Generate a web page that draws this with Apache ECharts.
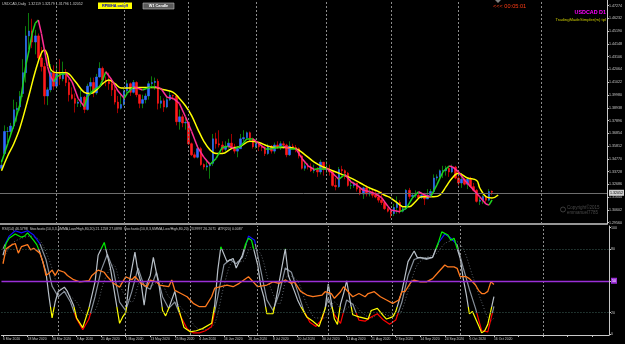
<!DOCTYPE html>
<html>
<head>
<meta charset="utf-8">
<script src="https://cdn.jsdelivr.net/npm/echarts@6.0.0/dist/echarts.min.js"></script>
<style>
  html, body { margin: 0; padding: 0; background: #000; }
  #chart { width: 625px; height: 344px; }
</style>
</head>
<body>
<div id="chart"></div>
<script>
// daily bars, 6 Mar 2020 .. 16 Oct 2020 : [open, high, low, close]
const bars = [
  [1.3400,1.3470,1.3385,1.3425],[1.3520,1.3750,1.3510,1.3700],[1.3700,1.3737,1.3612,1.3700],[1.3700,1.3770,1.3655,1.3745],
  [1.3745,1.3960,1.3720,1.3877],[1.3877,1.3940,1.3780,1.3890],[1.3900,1.4030,1.3870,1.3985],[1.4010,1.4290,1.3980,1.4180],
  [1.4180,1.4560,1.4100,1.4480],[1.4480,1.4667,1.4370,1.4520],[1.4520,1.4620,1.4380,1.4430],[1.4430,1.4530,1.4330,1.4480],
  [1.4480,1.4500,1.4270,1.4300],[1.4300,1.4390,1.4190,1.4230],[1.4230,1.4260,1.3920,1.3990],[1.3990,1.4060,1.3915,1.4040],
  [1.4040,1.4250,1.4020,1.4180],[1.4180,1.4240,1.4040,1.4070],[1.4070,1.4250,1.4050,1.4170],[1.4170,1.4290,1.4080,1.4130],
  [1.4130,1.4270,1.4110,1.4185],[1.4185,1.4210,1.4070,1.4100],[1.4100,1.4130,1.3945,1.4000],[1.4000,1.4060,1.3960,1.3970],
  [1.3970,1.4010,1.3855,1.3930],[1.3930,1.3960,1.3900,1.3940],[1.3940,1.4040,1.3900,1.3980],[1.3980,1.3990,1.3850,1.3880],
  [1.3880,1.4090,1.3870,1.4070],[1.4070,1.4140,1.4020,1.4100],[1.4100,1.4140,1.3980,1.4015],[1.4015,1.4170,1.4000,1.4145],
  [1.4145,1.4265,1.4140,1.4215],[1.4215,1.4230,1.4090,1.4120],[1.4120,1.4150,1.4070,1.4110],[1.4110,1.4180,1.4040,1.4090],
  [1.4090,1.4120,1.3990,1.4040],[1.4040,1.4070,1.3920,1.3940],[1.3940,1.3990,1.3850,1.3890],[1.3890,1.4000,1.3880,1.3920],
  [1.3920,1.4050,1.3910,1.4030],[1.4030,1.4120,1.4000,1.4090],[1.4090,1.4100,1.3990,1.4020],[1.4020,1.4120,1.4010,1.4100],
  [1.4100,1.4110,1.3980,1.4000],[1.4000,1.4000,1.3890,1.3930],[1.3930,1.4000,1.3890,1.3960],[1.3960,1.4010,1.3930,1.3990],
  [1.3990,1.4110,1.3960,1.4090],[1.4090,1.4150,1.4070,1.4100],[1.4100,1.4140,1.4040,1.4110],[1.4110,1.4130,1.3880,1.3930],
  [1.3930,1.3990,1.3890,1.3950],[1.3950,1.3970,1.3860,1.3900],[1.3900,1.3990,1.3890,1.3960],[1.3960,1.4030,1.3950,1.3995],
  [1.3995,1.4000,1.3960,1.3990],[1.3990,1.4000,1.3750,1.3780],[1.3780,1.3880,1.3715,1.3820],[1.3820,1.3840,1.3735,1.3770],
  [1.3770,1.3810,1.3715,1.3775],[1.3775,1.3780,1.3590,1.3600],[1.3600,1.3610,1.3500,1.3510],[1.3510,1.3530,1.3480,1.3490],
  [1.3490,1.3590,1.3480,1.3560],[1.3560,1.3575,1.3420,1.3430],[1.3430,1.3440,1.3390,1.3410],[1.3410,1.3470,1.3380,1.3420],
  [1.3420,1.3450,1.3315,1.3440],[1.3440,1.3680,1.3420,1.3640],[1.3640,1.3690,1.3560,1.3600],[1.3600,1.3710,1.3570,1.3590],
  [1.3590,1.3620,1.3530,1.3555],[1.3555,1.3620,1.3540,1.3580],[1.3580,1.3640,1.3560,1.3605],[1.3605,1.3680,1.3570,1.3575],
  [1.3575,1.3600,1.3520,1.3540],[1.3540,1.3580,1.3490,1.3560],[1.3560,1.3680,1.3560,1.3640],[1.3640,1.3710,1.3620,1.3650],
  [1.3650,1.3700,1.3630,1.3690],[1.3690,1.3700,1.3620,1.3640],[1.3640,1.3650,1.3560,1.3575],[1.3575,1.3640,1.3560,1.3600],
  [1.3600,1.3615,1.3540,1.3575],[1.3575,1.3590,1.3540,1.3570],[1.3570,1.3580,1.3500,1.3520],[1.3520,1.3600,1.3510,1.3580],
  [1.3580,1.3590,1.3520,1.3540],[1.3540,1.3610,1.3520,1.3590],[1.3590,1.3620,1.3560,1.3570],[1.3570,1.3620,1.3550,1.3600],
  [1.3600,1.3620,1.3560,1.3590],[1.3590,1.3600,1.3490,1.3510],[1.3510,1.3620,1.3500,1.3580],[1.3580,1.3600,1.3560,1.3570],
  [1.3570,1.3590,1.3530,1.3560],[1.3560,1.3570,1.3480,1.3500],[1.3500,1.3510,1.3390,1.3400],[1.3400,1.3450,1.3380,1.3420],
  [1.3420,1.3440,1.3390,1.3410],[1.3410,1.3440,1.3370,1.3380],[1.3380,1.3430,1.3360,1.3390],[1.3390,1.3410,1.3330,1.3370],
  [1.3370,1.3470,1.3350,1.3450],[1.3450,1.3450,1.3340,1.3390],[1.3390,1.3460,1.3360,1.3390],[1.3390,1.3430,1.3340,1.3370],
  [1.3370,1.3380,1.3250,1.3260],[1.3260,1.3320,1.3220,1.3250],[1.3250,1.3410,1.3240,1.3390],[1.3390,1.3420,1.3330,1.3380],
  [1.3380,1.3390,1.3310,1.3360],[1.3360,1.3370,1.3250,1.3260],[1.3260,1.3310,1.3230,1.3260],[1.3260,1.3290,1.3240,1.3280],
  [1.3280,1.3280,1.3210,1.3230],[1.3230,1.3250,1.3180,1.3190],[1.3190,1.3250,1.3150,1.3240],[1.3240,1.3260,1.3170,1.3190],
  [1.3190,1.3250,1.3170,1.3200],[1.3200,1.3230,1.3160,1.3180],[1.3180,1.3220,1.3155,1.3165],[1.3165,1.3210,1.3120,1.3140],
  [1.3140,1.3210,1.3100,1.3120],[1.3120,1.3130,1.3060,1.3070],[1.3070,1.3080,1.3040,1.3050],[1.3050,1.3070,1.2994,1.3030],
  [1.3030,1.3110,1.3010,1.3080],[1.3080,1.3170,1.3030,1.3120],[1.3120,1.3140,1.3030,1.3050],[1.3050,1.3090,1.3040,1.3070],
  [1.3070,1.3230,1.3060,1.3220],[1.3220,1.3240,1.3150,1.3170],[1.3170,1.3200,1.3150,1.3180],[1.3180,1.3220,1.3160,1.3180],
  [1.3180,1.3200,1.3150,1.3160],[1.3160,1.3200,1.3150,1.3180],[1.3180,1.3200,1.3100,1.3150],[1.3150,1.3230,1.3150,1.3180],
  [1.3180,1.3230,1.3170,1.3210],[1.3210,1.3350,1.3200,1.3320],[1.3320,1.3350,1.3300,1.3330],[1.3330,1.3390,1.3310,1.3380],
  [1.3380,1.3420,1.3320,1.3380],[1.3380,1.3420,1.3340,1.3400],[1.3400,1.3420,1.3330,1.3370],[1.3370,1.3430,1.3360,1.3410],
  [1.3410,1.3420,1.3310,1.3320],[1.3320,1.3340,1.3260,1.3280],[1.3280,1.3360,1.3240,1.3310],[1.3310,1.3320,1.3260,1.3270],
  [1.3270,1.3320,1.3230,1.3310],[1.3310,1.3330,1.3240,1.3250],[1.3250,1.3280,1.3210,1.3220],[1.3220,1.3230,1.3120,1.3130],
  [1.3130,1.3160,1.3100,1.3140],[1.3140,1.3180,1.3110,1.3170],[1.3170,1.3180,1.3120,1.3140],[1.3140,1.3230,1.3130,1.3210],
  [1.3212,1.3218,1.3180,1.3205]
];

// date labels, one every 8 bars
const tickLabels = ['6 Mar 2020','18 Mar 2020','30 Mar 2020','9 Apr 2020','21 Apr 2020','1 May 2020','13 May 2020',
  '25 May 2020','4 Jun 2020','16 Jun 2020','26 Jun 2020','8 Jul 2020','20 Jul 2020','30 Jul 2020','11 Aug 2020',
  '21 Aug 2020','2 Sep 2020','14 Sep 2020','24 Sep 2020','6 Oct 2020','16 Oct 2020'];

const priceTicks = [1.29560,1.30602,1.31644,1.32686,1.33728,1.34770,1.35812,1.36854,1.37896,1.38938,
  1.39980,1.41022,1.42064,1.43106,1.44148,1.45190,1.46232,1.47274];
const levelTicks = [0, 20, 50, 80, 100];
const monthLines = [18, 40, 61, 83, 106, 127, 149, 176];
const lastPrice = 1.32052;

// yellow slow average [bar, price]
const slowMa = [[0,1.338],[2,1.350],[4,1.360],[6,1.373],[9,1.400],[11,1.419],[13,1.434],[14,1.4365],[15,1.432],
  [16,1.421],[18,1.418],[21,1.418],[24,1.411],[27,1.402],[29,1.401],[31,1.404],[33,1.409],[35,1.412],[37,1.409],
  [39,1.4055],[42,1.4055],[45,1.406],[48,1.406],[50,1.406],[53,1.404],[56,1.402],[58,1.397],[60,1.391],[62,1.383],
  [64,1.372],[66,1.362],[68,1.355],[70,1.352],[72,1.352],[75,1.356],[78,1.358],[81,1.362],[84,1.361],[87,1.358],
  [90,1.357],[93,1.357],[96,1.356],[99,1.351],[102,1.345],[105,1.341],[108,1.338],[111,1.335],[114,1.332],
  [117,1.328],[120,1.324],[123,1.3209],[125,1.318],[127,1.3157],[130,1.3100],[131,1.3086],[133,1.3086],
  [135,1.3127],[137,1.3168],[141,1.3168],[143,1.3182],[145,1.3250],[147,1.3321],[149,1.3359],[152,1.3321],
  [155,1.3300],[156,1.3239],[158,1.3168],[160,1.3157],[162,1.3182]];

// green / pink fast average [bar, price]
const fastMa = [[0,1.345],[2,1.360],[4,1.375],[6,1.392],[8,1.425],[9,1.4365],[10,1.450],[11,1.4583],[12,1.461],
  [13,1.4501],[14,1.4365],[15,1.4229],[16,1.4147],[17,1.4106],[18,1.4147],[20,1.4175],[21,1.4175],[23,1.4106],
  [25,1.397],[27,1.3902],[28,1.3984],[30,1.4039],[32,1.4066],[33,1.412],[34,1.4188],[36,1.412],[38,1.403],
  [40,1.3971],[41,1.4012],[43,1.4066],[46,1.4039],[49,1.4066],[50,1.4066],[52,1.405],[54,1.398],[56,1.397],
  [58,1.393],[60,1.382],[62,1.370],[64,1.357],[66,1.349],[68,1.343],[70,1.348],[72,1.357],[74,1.358],[76,1.356],
  [78,1.358],[80,1.364],[82,1.364],[84,1.360],[86,1.356],[88,1.356],[90,1.357],[92,1.358],[94,1.356],[96,1.356],
  [98,1.348],[100,1.342],[102,1.339],[104,1.340],[106,1.340],[108,1.336],[110,1.331],[112,1.335],[114,1.329],
  [116,1.326],[118,1.322],[120,1.321],[122,1.319],[124,1.316],[126,1.3090],[127,1.3060],[130,1.3046],
  [132,1.3073],[134,1.3157],[136,1.3209],[138,1.3182],[140,1.3168],[142,1.3264],[144,1.3372],[146,1.3419],
  [147,1.3413],[149,1.3372],[151,1.3304],[153,1.3250],[156,1.3168],[158,1.3108],[159,1.3100],[160,1.3141]];

// lower window [bar, value]
const rsi = [[0,66],[1,80],[3,84],[4,85],[5,76],[6,82],[8,84],[9,79],[10,80.5],[12,76],[13,68],[14,55],[15,57],
  [16,60],[17,55],[18,60],[20,58],[21,55],[23,51],[25,49],[28,50],[29,55],[31,60],[33,58],[34,54],[36,47.6],[38,44],
  [40,53.8],[42,51],[43,54],[45,47.6],[47,44.4],[48,50.7],[50,49],[51,46],[54,44.4],[55,50.7],[56,41],[58,38],
  [60,35],[62,28.8],[64,25.6],[66,25.6],[68,35],[69,43],[71,44.4],[73,46],[75,44.4],[77,47.6],[80,53.8],[82,47.6],
  [83,44.4],[86,46],[88,49],[90,47.6],[92,50.7],[94,47.6],[95,49],[97,40],[99,36.6],[101,35],[104,36.6],[105,39.7],
  [107,38],[108,33.5],[110,39.7],[111,44.4],[113,38],[114,35],[116,38],[118,35],[119,38],[121,39.7],[123,35],
  [125,31.9],[127,28.8],[129,31.9],[130,39.7],[131,39.7],[133,49],[134,50.7],[136,49],[138,49],[140,52],[142,58.5],
  [144,64.8],[145,63],[147,63],[148,61.7],[149,53.8],[151,53.8],[152,52],[154,46],[155,41],[156,38],[157,38],
  [158,40],[159,49],[160,46.6]];

const stochFast = [[0,74],[1,85],[2,90],[4,94],[6,91],[7,92],[8,95],[10,88],[11,84],[12,77],[14,58],[15,35],[16,15],
  [17,30],[18,40],[20,44],[21,40],[23,27],[24,15],[26,6],[28,24],[30,49],[31,74],[33,86],[35,62],[36,45],[38,10],
  [39,16],[40,20],[41,46],[43,77],[44,58],[45,48],[46,27],[47,48],[48,55],[49,72],[51,43],[52,22],[53,17],[54,24],
  [56,40],[57,26],[59,6],[61,2],[63,3],[65,5],[68,10],[69,27],[70,60],[71,82],[73,68],[75,71],[76,62],[78,74],
  [79,84],[80,90],[81,88],[83,65],[84,45],[85,35],[86,19],[88,19],[89,33],[92,80],[93,55],[95,40],[96,32],[97,26],
  [99,16],[101,12],[103,7],[105,24],[106,47],[107,30],[108,14],[109,9],[110,28],[111,38],[112,50],[113,33],[114,18],
  [116,16],[119,14],[120,22],[122,24],[124,17],[125,14],[127,16],[128,21],[130,40],[132,68],[134,78],[135,72],
  [138,71],[140,72],[142,87],[143,96],[145,93],[146,88],[147,90],[149,71],[150,52],[151,37],[152,19],[153,21],
  [155,8],[156,1],[157,3],[158,9],[159,22],[160,35]];

const stochSlow = [[0,80],[2,92],[4,97],[6,95],[8,97],[10,93],[12,85],[14,70],[16,45],[18,35],[20,40],[22,30],
  [24,14],[26,4],[28,14],[30,35],[32,60],[34,75],[36,60],[38,30],[40,22],[42,40],[44,62],[46,45],[48,42],[50,58],
  [52,35],[54,24],[56,30],[58,16],[60,5],[62,1],[64,1],[66,3],[68,7],[70,35],[72,65],[74,70],[76,66],[78,72],
  [80,92],[82,88],[84,60],[86,32],[88,22],[90,38],[92,62],[94,58],[96,40],[98,22],[100,11],[102,7],[104,14],
  [106,34],[108,18],[110,10],[112,32],[114,28],[116,13],[118,12],[120,16],[122,19],[124,13],[126,9],[128,13],
  [130,30],[132,55],[134,70],[136,72],[138,70],[140,72],[142,86],[144,94],[146,90],[148,84],[150,62],[152,42],
  [154,24],[156,3],[158,2],[160,26]];

const stochSignal = [[0,70],[3,85],[6,90],[9,92],[12,88],[15,70],[18,45],[21,38],[24,30],[27,18],[30,22],[33,50],
  [36,65],[39,40],[42,30],[45,50],[48,45],[51,50],[54,35],[57,28],[60,18],[63,6],[66,4],[69,10],[72,45],[75,68],
  [78,68],[81,82],[84,75],[87,45],[90,28],[93,55],[96,50],[99,28],[102,15],[105,15],[108,30],[111,22],[114,28],
  [117,20],[120,15],[123,20],[126,17],[129,18],[132,40],[135,65],[138,72],[141,75],[144,85],[147,88],[150,80],
  [153,55],[156,30],[159,12],[160,15]];

const N = 198;
const cats = Array.from({ length: N }, (_, i) => String(i));

const wickData = bars.map(b => [b[0], b[3], b[2], b[1]]);
const bodyData = bars.map(b => [b[0], b[3], Math.min(b[0], b[3]), Math.max(b[0], b[3])]);

const fastSegs = [];
for (let k = 1; k < fastMa.length; k++) {
  const a = fastMa[k - 1], b = fastMa[k];
  fastSegs.push({ coords: [a, b], lineStyle: { color: b[1] >= a[1] ? '#1ed21e' : '#ff2d95' } });
}

const FONT = 'Liberation Sans, Arial, sans-serif';
const vLines = monthLines.map(i => ({ xAxis: i }));
const gridLineStyle = { color: '#8c8c8c', type: [2, 2], width: 1 };

const chart = echarts.init(document.getElementById('chart'));
chart.setOption({
  backgroundColor: '#000',
  animation: false,
  textStyle: { fontFamily: FONT },
  grid: [
    { left: 0, top: 0, width: 609, height: 224 },
    { left: 0, top: 226, width: 609, height: 109 }
  ],
  xAxis: [
    {
      type: 'category', gridIndex: 0, data: cats, boundaryGap: true,
      axisLine: { show: true, onZero: false, lineStyle: { color: '#c8c8c8', width: 1.5 } },
      axisTick: { show: false }, axisLabel: { show: false }, splitLine: { show: false }
    },
    {
      type: 'category', gridIndex: 1, data: cats, boundaryGap: true,
      axisLine: { show: true, onZero: false, lineStyle: { color: '#c8c8c8', width: 1 } },
      axisTick: { show: true, interval: 7, alignWithLabel: true, length: 2, lineStyle: { color: '#c8c8c8' } },
      axisLabel: {
        interval: 7, align: 'left', margin: 3, fontSize: 3.4, color: '#c8c8c8',
        formatter: (v, i) => tickLabels[i / 8] || ''
      },
      splitLine: { show: false }
    }
  ],
  yAxis: [
    {
      type: 'value', gridIndex: 0, position: 'right', min: 1.294524, max: 1.477308,
      splitLine: { show: false },
      axisLine: { show: true, lineStyle: { color: '#c8c8c8' } },
      axisTick: { show: true, length: 2, customValues: priceTicks, lineStyle: { color: '#c8c8c8' } },
      axisLabel: {
        customValues: priceTicks, margin: 2, fontSize: 3.6, color: '#c8c8c8',
        formatter: v => v.toFixed(5)
      }
    },
    {
      type: 'value', gridIndex: 1, position: 'right', min: -1, max: 101.5,
      splitLine: { show: false },
      axisLine: { show: true, lineStyle: { color: '#c8c8c8' } },
      axisTick: { show: true, length: 2, customValues: levelTicks, lineStyle: { color: '#c8c8c8' } },
      axisLabel: {
        customValues: levelTicks, margin: 2, fontSize: 3.6, color: '#c8c8c8',
        formatter: v => (v === 50 ? '{p|50}' : String(v)),
        rich: { p: { fontSize: 3.6, color: '#fff', backgroundColor: '#9a2fd6', padding: [1, 1] } }
      }
    }
  ],
  visualMap: [
    {
      type: 'piecewise', show: false, seriesIndex: 5, dimension: 1,
      pieces: [
        { lt: 20, color: '#ff0000' },
        { gte: 20, lte: 85, color: '#87909b' },
        { gt: 85, color: '#1010ff' }
      ]
    },
    {
      type: 'piecewise', show: false, seriesIndex: 6, dimension: 1,
      pieces: [
        { lt: 25, color: '#ffff00' },
        { gte: 25, lte: 80, color: '#b8c0c8' },
        { gt: 80, color: '#00f000' }
      ]
    }
  ],
  series: [
    {
      type: 'candlestick', xAxisIndex: 0, yAxisIndex: 0, data: wickData, barWidth: 1,
      itemStyle: { color: '#0b7a0b', color0: '#a00000', borderColor: '#0b7a0b', borderColor0: '#a00000', borderWidth: 1 },
      markLine: {
        silent: true, symbol: 'none', label: { show: false },
        lineStyle: gridLineStyle, data: vLines
      }
    },
    {
      type: 'candlestick', xAxisIndex: 0, yAxisIndex: 0, data: bodyData, barWidth: 2,
      itemStyle: { color: '#2f6bff', color0: '#ff1a1a', borderColor: '#2f6bff', borderColor0: '#ff1a1a', borderWidth: 0.6 },
      markLine: {
        silent: true, symbol: 'none',
        lineStyle: { color: '#6e6e6e', type: 'solid', width: 1 },
        label: {
          show: true, position: 'end', formatter: lastPrice.toFixed(5), distance: 2,
          fontSize: 3.6, color: '#000', backgroundColor: '#d0d0d0', padding: [1, 1]
        },
        data: [{ yAxis: lastPrice }]
      }
    },
    {
      type: 'line', xAxisIndex: 0, yAxisIndex: 0, data: slowMa, smooth: 0.4, showSymbol: false,
      lineStyle: { color: '#ffff00', width: 1.5 }, z: 4
    },
    {
      type: 'lines', coordinateSystem: 'cartesian2d', xAxisIndex: 0, yAxisIndex: 0, polyline: false,
      silent: true, lineStyle: { width: 1.5, opacity: 1, curveness: 0 }, data: fastSegs, z: 5
    },
    {
      type: 'line', xAxisIndex: 1, yAxisIndex: 1, data: stochSignal, showSymbol: false, smooth: 0.3,
      lineStyle: { color: '#5c636b', width: 1, type: [1, 2] }
    },
    {
      type: 'line', xAxisIndex: 1, yAxisIndex: 1, data: stochSlow, showSymbol: false,
      lineStyle: { width: 1.2 }
    },
    {
      type: 'line', xAxisIndex: 1, yAxisIndex: 1, data: stochFast, showSymbol: false,
      lineStyle: { width: 1.2 }
    },
    {
      type: 'line', xAxisIndex: 1, yAxisIndex: 1, data: rsi, showSymbol: false,
      lineStyle: { color: '#ff7a1f', width: 1.3 },
      markLine: {
        silent: true, symbol: 'none', label: { show: false },
        data: [
          ...vLines.map(d => ({ ...d, lineStyle: gridLineStyle })),
          { yAxis: 80, lineStyle: { color: '#3d6058', type: [1, 2], width: 1 } },
          { yAxis: 20, lineStyle: { color: '#3d6058', type: [1, 2], width: 1 } },
          { yAxis: 50, lineStyle: { color: '#9a2fd6', type: 'solid', width: 1.3 } }
        ]
      }
    }
  ],
  graphic: [
    { type: 'text', x: 2, y: 2, silent: true,
      style: { text: 'USDCAD,Daily  1.32119 1.32179 1.31796 1.32052', fill: '#c8c8c8', font: '3.6px ' + FONT } },
    { type: 'rect', silent: true, shape: { x: 98, y: 2.5, width: 34, height: 6.5 }, style: { fill: '#ffff00' } },
    { type: 'text', x: 115, y: 5.8, silent: true,
      style: { text: 'RPB/HA on/off', fill: '#0000c0', font: 'bold 3.8px ' + FONT, textAlign: 'center', textVerticalAlign: 'middle' } },
    { type: 'rect', silent: true, shape: { x: 143, y: 3, width: 31, height: 6 }, style: { fill: '#5a5a5a', stroke: '#bdbdbd', lineWidth: 0.6 } },
    { type: 'text', x: 158.5, y: 6, silent: true,
      style: { text: 'W1 Candle', fill: '#ffffff', font: 'bold 3.8px ' + FONT, textAlign: 'center', textVerticalAlign: 'middle' } },
    { type: 'polygon', silent: true, shape: { points: [[495, 0], [501, 0], [498, 3]] }, style: { fill: '#808080' } },
    { type: 'text', x: 493, y: 3, silent: true,
      style: { text: '<<< 00:05:01', fill: '#ff3c14', font: '5.6px ' + FONT } },
    { type: 'text', x: 606, y: 10, silent: true,
      style: { text: 'USDCAD D1', fill: '#ff00ff', font: 'bold 5.4px ' + FONT, textAlign: 'right' } },
    { type: 'text', x: 606, y: 17.5, silent: true,
      style: { text: 'TradingMadeSimpler(m) tpl', fill: '#c8c800', font: '4.2px ' + FONT, textAlign: 'right' } },
    { type: 'circle', silent: true, shape: { cx: 563, cy: 209.5, r: 2.5 }, style: { fill: 'none', stroke: '#4a4a4a', lineWidth: 0.8 } },
    { type: 'text', x: 567, y: 205.5, silent: true,
      style: { text: 'Copyright\u00a92015', fill: '#4a4a4a', font: '4.5px ' + FONT } },
    { type: 'text', x: 567, y: 210.5, silent: true,
      style: { text: 'emmanuel7785', fill: '#4a4a4a', font: '4.5px ' + FONT } },
    { type: 'text', x: 2, y: 227.5, silent: true,
      style: {
        text: 'RSI(14) 46.5798  Stochastic(10,3,3,SMMA,Low/High,80,20) 21.1258 27.0898  Stochastic(10,8,3,SMMA,Low/High,80,20) 23.9997 26.2071  ATR(20) 0.0087',
        fill: '#c8c8c8', font: '3.5px ' + FONT
      } }
  ]
});
</script>
</body>
</html>
